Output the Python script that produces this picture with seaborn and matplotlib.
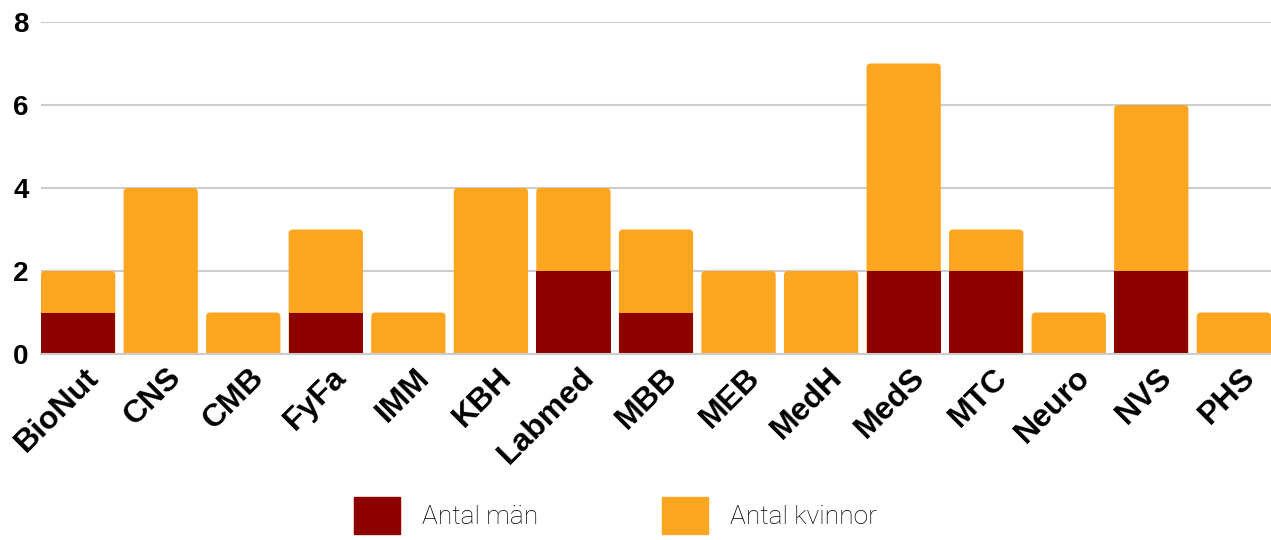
import numpy as np
import pandas as pd
import seaborn as sns
import matplotlib.pyplot as plt
from matplotlib.patches import Patch, FancyBboxPatch
from matplotlib.transforms import ScaledTranslation

# data
depts = ['BioNut', 'CNS', 'CMB', 'FyFa', 'IMM', 'KBH', 'Labmed', 'MBB',
         'MEB', 'MedH', 'MedS', 'MTC', 'Neuro', 'NVS', 'PHS']
men = [1, 0, 0, 1, 0, 0, 2, 1, 0, 0, 2, 2, 0, 2, 0]
women = [1, 4, 1, 2, 1, 4, 2, 2, 2, 2, 5, 1, 1, 4, 1]

df = pd.DataFrame({'dept': depts, 'men': men, 'women': women})
df['total'] = df['men'] + df['women']

RED = '#8E0000'
ORANGE = '#FFA620'

sns.set_theme(style='white')
plt.rcParams['font.family'] = ['Liberation Sans', 'DejaVu Sans']
plt.rcParams['text.color'] = 'black'
plt.rcParams['xtick.color'] = 'black'
plt.rcParams['ytick.color'] = 'black'

fig = plt.figure(figsize=(12.71, 5.40), dpi=100)
ax = fig.add_axes([41 / 1271, 1 - 354 / 540, 1230 / 1271, 332 / 540])

# stacked: draw totals (orange) then men (dark red) over them
sns.barplot(data=df, x='dept', y='total', color=ORANGE, width=0.9,
            saturation=1, linewidth=0, ax=ax, zorder=2)
sns.barplot(data=df, x='dept', y='men', color=RED, width=0.9,
            saturation=1, linewidth=0, ax=ax, zorder=3)

ax.set_ylim(0, 8)
ax.set_xlim(-0.45, len(depts) - 0.55)

# round the top corners of the orange bars (bottom is pushed below 0 and clipped)
aspect = (8 / 332) / (1 / 82.5)
for rect in ax.containers[0]:
    x, w, h = rect.get_x(), rect.get_width(), rect.get_height()
    rect.set_visible(False)
    ax.add_patch(FancyBboxPatch((x, -0.5), w, h + 0.5,
                                boxstyle='round,pad=0,rounding_size=0.05',
                                mutation_aspect=aspect, facecolor=ORANGE,
                                linewidth=0, zorder=2))

ax.set_yticks([0, 2, 4, 6, 8])
ax.yaxis.grid(True, color='#cccccc', linewidth=1.5, zorder=0)
ax.set_axisbelow(True)
ax.set_xlabel('')
ax.set_ylabel('')
for s in ['top', 'right', 'left']:
    ax.spines[s].set_visible(False)
ax.spines['bottom'].set_color('#cccccc')
ax.spines['bottom'].set_linewidth(1.5)
ax.spines['bottom'].set_zorder(5)
ax.tick_params(axis='both', length=0)
ax.tick_params(axis='y', pad=9)
ax.tick_params(axis='x', pad=6)

plt.setp(ax.get_yticklabels(), fontsize=20, fontweight='bold',
         family='Liberation Sans', color='black')
plt.setp(ax.get_xticklabels(), fontsize=23, fontweight='bold',
         family='Liberation Sans', color='black', rotation=45,
         ha='right', rotation_mode='anchor')
for lbl in ax.get_xticklabels():
    lbl.set_transform(lbl.get_transform() +
                      ScaledTranslation(0.06, 0, fig.dpi_scale_trans))

handles = [Patch(color=RED, label='Antal män'),
           Patch(color=ORANGE, label='Antal kvinnor')]
fig.legend(handles=handles, loc='center', bbox_to_anchor=(0.484, 0.046),
           ncol=2, frameon=False, handlelength=1.74, handleheight=1.78,
           columnspacing=4.7, handletextpad=0.83, borderpad=0,
           prop={'family': 'Roboto', 'weight': 'light', 'size': 19})

fig.savefig('out.png', dpi=100)
